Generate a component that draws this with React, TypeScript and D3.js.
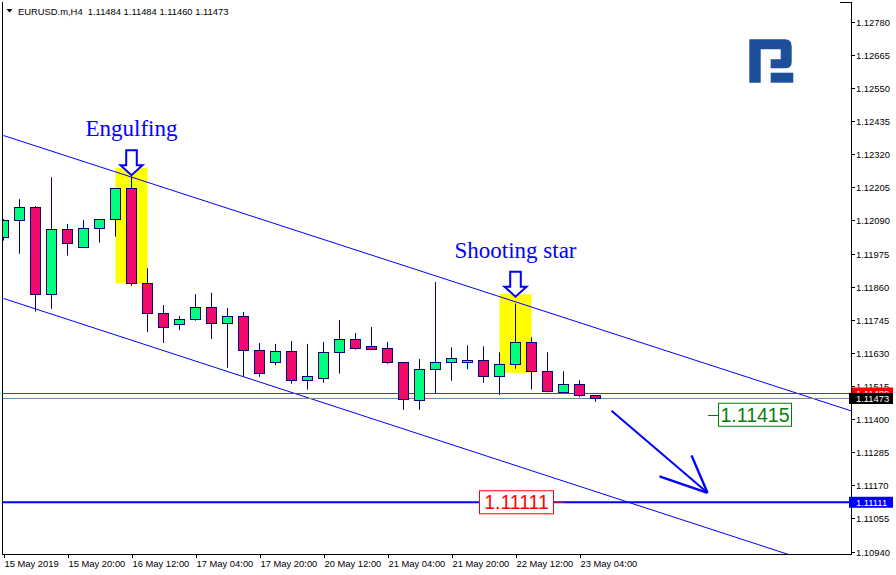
import React from "react";
import * as d3 from "d3";

// ---- Data (EURUSD.m, H4) ----
const barTimes = [
  "15 May 04:00", "15 May 08:00", "15 May 12:00", "15 May 16:00", "15 May 20:00",
  "16 May 00:00", "16 May 04:00", "16 May 08:00", "16 May 12:00", "16 May 16:00", "16 May 20:00",
  "17 May 00:00", "17 May 04:00", "17 May 08:00", "17 May 12:00", "17 May 16:00", "17 May 20:00",
  "20 May 00:00", "20 May 04:00", "20 May 08:00", "20 May 12:00", "20 May 16:00", "20 May 20:00",
  "21 May 00:00", "21 May 04:00", "21 May 08:00", "21 May 12:00", "21 May 16:00", "21 May 20:00",
  "22 May 00:00", "22 May 04:00", "22 May 08:00", "22 May 12:00", "22 May 16:00", "22 May 20:00",
  "23 May 00:00", "23 May 04:00", "23 May 08:00",
];
const openP = [
  1.12031, 1.12092, 1.12136, 1.11833, 1.12059, 1.11997, 1.12063, 1.12094, 1.12202, 1.11872,
  1.11767, 1.11729, 1.11747, 1.11788, 1.11733, 1.11758, 1.11639, 1.11597, 1.11636, 1.11535,
  1.11544, 1.11632, 1.11677, 1.11653, 1.11646, 1.11597, 1.11465, 1.11573, 1.11597, 1.11597,
  1.11604, 1.11549, 1.11590, 1.11667, 1.11566, 1.11493, 1.11521, 1.11484,
];
const highP = [
  1.12095, 1.12164, 1.12140, 1.12240, 1.12078, 1.12092, 1.12095, 1.12203, 1.12242, 1.11924,
  1.11796, 1.11758, 1.11834, 1.11839, 1.11786, 1.11772, 1.11664, 1.11661, 1.11671, 1.11661,
  1.11668, 1.11744, 1.11699, 1.11720, 1.11668, 1.11598, 1.11609, 1.11876, 1.11649, 1.11656,
  1.11653, 1.11632, 1.11801, 1.11684, 1.11632, 1.11566, 1.11535, 1.11484,
];
const lowP = [
  1.12020, 1.11974, 1.11773, 1.11783, 1.11968, 1.11995, 1.12013, 1.12034, 1.11863, 1.11702,
  1.11664, 1.11709, 1.11742, 1.11678, 1.11578, 1.11547, 1.11547, 1.11587, 1.11523, 1.11502,
  1.11526, 1.11558, 1.11641, 1.11641, 1.11592, 1.11432, 1.11432, 1.11487, 1.11533, 1.11573,
  1.11526, 1.11483, 1.11575, 1.11503, 1.11493, 1.11490, 1.11476, 1.11460,
];
const closeP = [
  1.12092, 1.12136, 1.11833, 1.12059, 1.12011, 1.12063, 1.12094, 1.12202, 1.11872, 1.11767,
  1.11721, 1.11747, 1.11791, 1.11733, 1.11758, 1.11639, 1.11559, 1.11636, 1.11536, 1.11549,
  1.11633, 1.11677, 1.11648, 1.11645, 1.11597, 1.11469, 1.11573, 1.11597, 1.11611, 1.11605,
  1.11549, 1.11590, 1.11667, 1.11566, 1.11496, 1.11521, 1.11485, 1.11473,
];

const xTickBars = [0, 4, 8, 12, 16, 20, 24, 28, 32, 36];
const xTickLabels = [
  "15 May 2019", "15 May 20:00", "16 May 12:00", "17 May 04:00", "17 May 20:00",
  "20 May 12:00", "21 May 04:00", "21 May 20:00", "22 May 12:00", "23 May 04:00",
];
const priceTicks = [
  1.1278, 1.12665, 1.1255, 1.12435, 1.1232, 1.12205, 1.1209, 1.11975, 1.1186,
  1.11745, 1.1163, 1.11515, 1.114, 1.11285, 1.1117, 1.11055, 1.1094,
];

const bidPrice = 1.11473;
const askPrice = 1.11489;
const levelPrice = 1.11111;
const targetPrice = 1.11415;

// channel lines: [bar, price] endpoints
const channelUpper = [[0, 1.12385], [55, 1.11392]];
const channelLower = [[0, 1.11819], [55, 1.10822]];

// pattern highlights: [barFrom, barTo, priceTop, priceBottom]
const highlightBoxes = [
  [7, 9, 1.12273, 1.11872],
  [31, 33, 1.11834, 1.11561],
];
// hollow arrows: [bar, tipPrice]
const patternArrows = [[8, 1.12247], [32, 1.11825]];
const patternNames = ["Engulfing", "Shooting star"];
const patternTextPrices = [1.12383, 1.11958];

// forecast arrow: shaft and head points [bar, price]
const forecastShaft = [[38, 1.11429], [44, 1.11144]];
const forecastHead = [[43, 1.11274], [41, 1.11201]];

export default function App() {
  const W = 896, H = 575;
  const left = 2, right = 851, top = 2, bottom = 554;
  const x = d3.scaleLinear().domain([0, 1]).range([3.5, 19.5]);
  const y = d3.scaleLinear().domain([1.1094, 1.1278]).range([551.5, 21.8]);
  const font = "'Liberation Sans', Arial, sans-serif";
  const navy = "#000080";
  const blue = "#0000ff";
  const line = d3.line<number[]>().x((d) => x(d[0])).y((d) => y(d[1]));
  const fmt = (v: number) => v.toFixed(5);

  const hollowArrow = (tx: number, ty: number) => {
    const pts = [
      [tx - 5.3, ty - 25], [tx + 5.3, ty - 25], [tx + 5.3, ty - 10], [tx + 11, ty - 10],
      [tx, ty], [tx - 11, ty - 10], [tx - 5.3, ty - 10],
    ];
    return "M" + pts.map((p) => p.join(",")).join("L") + "Z";
  };

  const yb = Math.round(y(bidPrice)) + 0.5;
  const ya = Math.round(y(askPrice)) + 0.5;
  const yl = y(levelPrice);
  const yt = y(targetPrice);

  return (
    <svg width={W} height={H} style={{ position: "absolute", left: 0, top: 0, background: "#fff" }}>
      <defs>
        <clipPath id="plot">
          <rect x={left} y={top} width={right - left} height={bottom - top} />
        </clipPath>
      </defs>
      <rect x={0} y={0} width={W} height={H} fill="#fff" />

      <g clipPath="url(#plot)">
        {highlightBoxes.map((b, i) => (
          <rect key={"hb" + i} x={x(b[0])} y={y(b[2])} width={x(b[1]) - x(b[0])}
            height={y(b[3]) - y(b[2])} fill="#ffff00" />
        ))}

        <path d={line(channelUpper as any) || ""} stroke={blue} strokeWidth={1} fill="none" />
        <path d={line(channelLower as any) || ""} stroke={blue} strokeWidth={1} fill="none" />

        <line x1={left} x2={right} y1={yb} y2={yb} stroke="#778899" strokeWidth={1} />
        <line x1={left} x2={right} y1={ya} y2={ya} stroke="#ff0000" strokeWidth={1} />

        <line x1={left} x2={right} y1={yl} y2={yl} stroke={blue} strokeWidth={2} />

        {openP.map((o, i) => {
          const c = closeP[i];
          const cx = x(i);
          const up = c >= o;
          const yTop = y(Math.max(o, c));
          const yBot = y(Math.min(o, c));
          const t = Math.round(yTop) + 0.5;
          const bt = Math.max(Math.round(yBot) + 0.5, t + 1);
          return (
            <g key={"c" + i}>
              <title>{barTimes[i]}</title>
              <line x1={cx} x2={cx} y1={y(highP[i])} y2={y(lowP[i])} stroke={navy} strokeWidth={1} />
              <rect x={cx - 5} y={t} width={10} height={bt - t}
                fill={up ? "#00ff7f" : "#f20a6a"} stroke={navy} strokeWidth={1} />
            </g>
          );
        })}

        {patternArrows.map((a, i) => (
          <path key={"pa" + i} d={hollowArrow(x(a[0]), y(a[1]))} fill="#fff" stroke={blue} strokeWidth={2}
            strokeLinejoin="miter" />
        ))}
        {patternNames.map((n, i) => (
          <text key={"pn" + i} x={x(patternArrows[i][0])} y={y(patternTextPrices[i])} textAnchor="middle"
            fontFamily="'Liberation Serif', 'Times New Roman', serif" fontSize={23} fill={blue}>{n}</text>
        ))}

        <path d={line(forecastShaft as any) || ""} stroke={blue} strokeWidth={2} fill="none" />
        {forecastHead.map((p, i) => (
          <path key={"fh" + i} d={line([p, forecastShaft[1]] as any) || ""} stroke={blue} strokeWidth={2.4} fill="none" />
        ))}

        <line x1={554} x2={564} y1={yl} y2={yl} stroke="#ff0000" strokeWidth={1} />
        <rect x={479.5} y={yl - 11.5} width={74} height={23} fill="#fff" stroke="#ff0000" strokeWidth={1} />
        <text x={516.5} y={yl + 7} textAnchor="middle" fontFamily={font} fontSize={19.5} fill="#ff0000">{fmt(levelPrice)}</text>

        <line x1={708} x2={718} y1={Math.round(yt) + 0.5} y2={Math.round(yt) + 0.5} stroke="#008000" strokeWidth={1} />
        <rect x={718.5} y={yt - 11.5} width={73} height={23} fill="#fff" stroke="#008000" strokeWidth={1} />
        <text x={755} y={yt + 7} textAnchor="middle" fontFamily={font} fontSize={19.5} fill="#0a7d0a">{fmt(targetPrice)}</text>
      </g>

      <path d="M749.3,39.3 H785 Q791.7,39.3 791.7,46.7 V61.7 Q791.7,68.3 785,68.3 H770.7 V59.3 H780.7 V49.3 H760.7 V82.7 H749.3 Z"
        fill="#1f4e9a" />
      <rect x={770.7} y={72.7} width={22.6} height={10} fill="#1f4e9a" />

      <line x1={left + 0.5} x2={left + 0.5} y1={top} y2={bottom} stroke="#000" strokeWidth={1} />
      <line x1={left} x2={right + 0.5} y1={bottom + 0.5} y2={bottom + 0.5} stroke="#000" strokeWidth={1} />
      <line x1={right + 0.5} x2={right + 0.5} y1={top} y2={bottom + 1} stroke="#000" strokeWidth={1} />
      <line x1={840} x2={right + 0.5} y1={top + 0.5} y2={top + 0.5} stroke="#000" strokeWidth={1} />

      {priceTicks.map((p, i) => {
        const ty = Math.round(y(p)) + 0.5;
        return (
          <g key={"pt" + i}>
            <line x1={right} x2={right + 4} y1={ty} y2={ty} stroke="#000" strokeWidth={1} />
            <text x={856} y={ty + 3.3} fontFamily={font} fontSize={9.4} fill="#000">{fmt(p)}</text>
          </g>
        );
      })}
      <rect x={852} y={ya - 6} width={41} height={11} fill="#ff0000" />
      <text x={856} y={ya + 3.3} fontFamily={font} fontSize={9.4} fill="#fff">{fmt(askPrice)}</text>
      <rect x={849} y={yb - 5.5} width={44} height={11} fill="#000" />
      <text x={856} y={yb + 3.3} fontFamily={font} fontSize={9.4} fill="#fff">{fmt(bidPrice)}</text>
      <rect x={849} y={yl - 5.5} width={44} height={11} fill={blue} />
      <text x={856} y={yl + 3.3} fontFamily={font} fontSize={9.4} fill="#fff">{fmt(levelPrice)}</text>

      {xTickBars.map((b, i) => {
        const tx = Math.round(x(b)) + 0.5;
        return (
          <g key={"xt" + i}>
            <line x1={tx} x2={tx} y1={bottom} y2={bottom + 4} stroke="#000" strokeWidth={1} />
            <text x={tx} y={567} fontFamily={font} fontSize={9.4} fill="#000">{xTickLabels[i]}</text>
          </g>
        );
      })}

      <path d="M6.5,9 L12.5,9 L9.5,12.5 Z" fill="#000" />
      <text x={18} y={14.5} fontFamily={font} fontSize={9.4} fill="#000" xmlSpace="preserve">
        {"EURUSD.m,H4  " + [openP[37], highP[37], lowP[37], closeP[37]].map(fmt).join(" ")}
      </text>
    </svg>
  );
}
